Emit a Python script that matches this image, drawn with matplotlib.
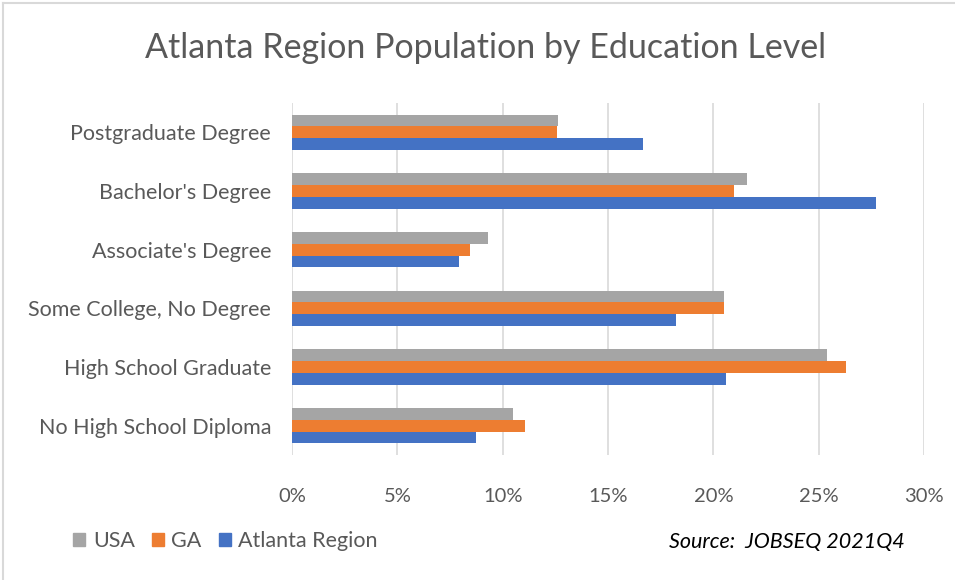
import matplotlib.pyplot as plt
import matplotlib.patches as mpatches
from matplotlib.ticker import PercentFormatter
import numpy as np

plt.rcParams['font.family'] = ['Lato', 'DejaVu Sans']

categories = ["No High School Diploma", "High School Graduate", "Some College, No Degree",
              "Associate's Degree", "Bachelor's Degree", "Postgraduate Degree"]
usa = [10.5, 25.4, 20.5, 9.3, 21.6, 12.65]
ga = [11.05, 26.3, 20.5, 8.45, 21.0, 12.6]
atlanta = [8.75, 20.6, 18.25, 7.95, 27.7, 16.65]
series_names = ["USA", "GA", "Atlanta Region"]
colors = ["#a5a5a5", "#ed7d31", "#4472c4"]
xticks = [0, 5, 10, 15, 20, 25, 30]

text_gray = "#595959"

fig = plt.figure(figsize=(9.55, 5.8), dpi=100)
ax = fig.add_axes([292 / 955, 1 - 455 / 580, (924 - 292) / 955, (455 - 103) / 580])

y = np.arange(len(categories))
h = 0.2
for vals, off, name, c in zip([usa, ga, atlanta], [h, 0, -h], series_names, colors):
    ax.barh(y + off, vals, height=h, color=c, label=name, zorder=3)

ax.set_xlim(0, 30)
ax.set_ylim(-0.5, len(categories) - 0.5)
ax.set_xticks(xticks)
ax.xaxis.set_major_formatter(PercentFormatter(decimals=0))
ax.set_yticks(y)
ax.set_yticklabels(categories)
ax.grid(axis='x', color='#d9d9d9', linewidth=1.2, zorder=0)
for s in ax.spines.values():
    s.set_visible(False)
ax.tick_params(axis='both', length=0, labelcolor=text_gray)
ax.tick_params(axis='y', pad=15, labelsize=15.5)
ax.tick_params(axis='x', pad=24, labelsize=14.5)

fig.text(486 / 955, 1 - 48 / 580, "Atlanta Region Population by Education Level",
         ha='center', va='center', fontsize=24.5, color=text_gray)

handles = [mpatches.Patch(color=c) for c in colors]
fig.legend(handles, series_names, loc='center left', bbox_to_anchor=(54 / 955, 1 - 541 / 580),
           ncol=3, frameon=False, fontsize=15.5, handlelength=0.55, handleheight=0.55,
           handletextpad=0.35, columnspacing=0.8, labelcolor=text_gray)

fig.text(905 / 955, 1 - 542 / 580, "Source:  JOBSEQ 2021Q4", ha='right', va='center',
         fontsize=15.5, style='italic', color='black')

# chart border
fig.add_artist(plt.Line2D([3 / 955, 3 / 955], [0, 1 - 3 / 580], color='#d9d9d9',
                          linewidth=1.5, transform=fig.transFigure))
fig.add_artist(plt.Line2D([3 / 955, 1], [1 - 3 / 580, 1 - 3 / 580], color='#d9d9d9',
                          linewidth=1.5, transform=fig.transFigure))

fig.savefig("out.png", dpi=100)
